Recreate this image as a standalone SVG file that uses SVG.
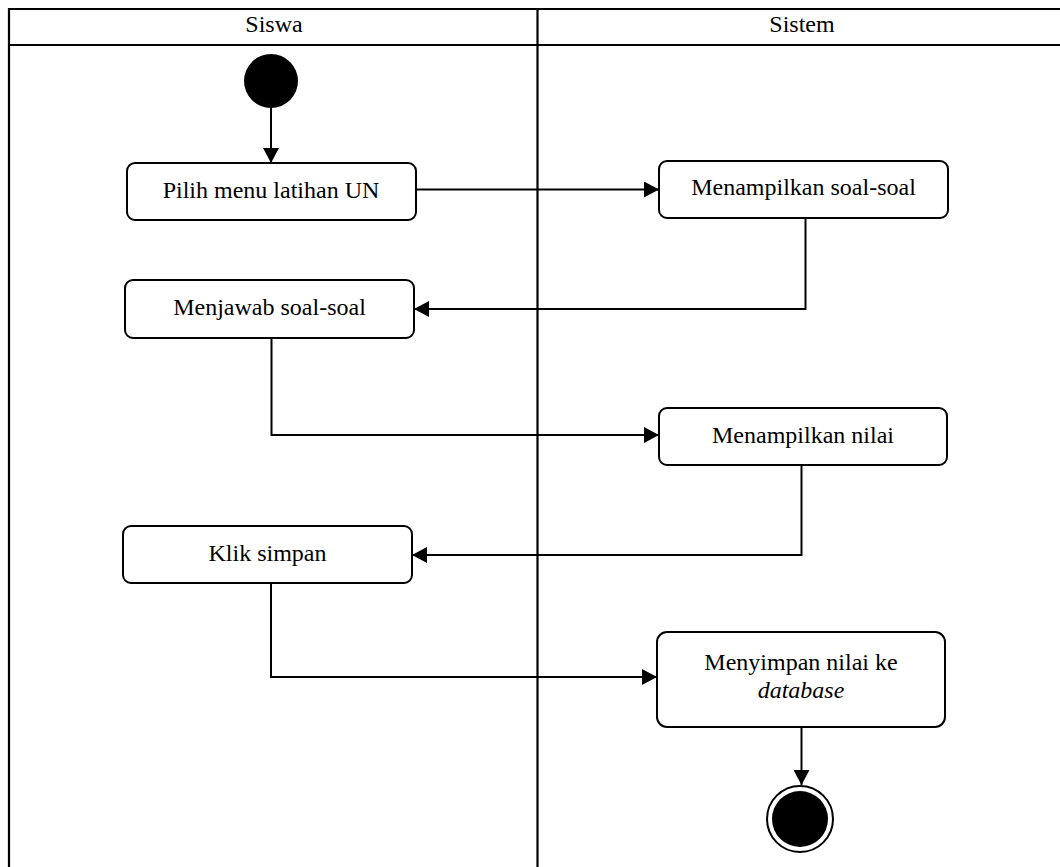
<svg xmlns="http://www.w3.org/2000/svg" width="1060" height="867" viewBox="0 0 1060 867">
  <style>
    .lane { fill: none; stroke: #000; stroke-width: 2.2; }
    .hdr { font-family: "Liberation Serif", "Times New Roman", serif; font-size: 24px; fill: #000; text-anchor: middle; }
    .act rect { fill: #fff; stroke: #000; stroke-width: 2; }
    .act text { font-family: "Liberation Serif", "Times New Roman", serif; font-size: 24px; fill: #000; text-anchor: middle; }
    .flow { fill: none; stroke: #000; stroke-width: 2; marker-end: url(#arrow); }
  </style>
  <defs>
    <marker id="arrow" markerWidth="15" markerHeight="16" refX="15" refY="8" orient="auto" markerUnits="userSpaceOnUse">
      <path d="M0,0 L15,8 L0,16 Z" fill="#000"/>
    </marker>
  </defs>

  <rect width="1060" height="867" fill="#fff"/>

  <!-- swimlane frame -->
  <g id="lanes">
    <path class="lane" d="M1070,9 H9 V880"/>
    <path class="lane" d="M9,45 H1070"/>
    <path class="lane" d="M537.5,9 V880"/>
    <text class="hdr" x="274" y="32">Siswa</text>
    <text class="hdr" x="802" y="32">Sistem</text>
  </g>

  <!-- connectors -->
  <g id="connectors">
    <path class="flow" d="M271,108 V163"/>
    <path class="flow" d="M416,189.5 H659"/>
    <path class="flow" d="M805.5,218 V309 H414"/>
    <path class="flow" d="M271.5,338 V435 H659"/>
    <path class="flow" d="M801.5,465 V555 H412"/>
    <path class="flow" d="M271,583 V677 H657"/>
    <path class="flow" d="M801.5,727 V785"/>
  </g>

  <g id="start">
    <circle cx="271" cy="81" r="27" fill="#000"/>
  </g>

  <g id="pilih-menu" class="act">
    <rect x="127" y="163" width="289" height="57" rx="8"/>
    <text x="271" y="198">Pilih menu latihan UN</text>
  </g>

  <g id="tampil-soal" class="act">
    <rect x="659" y="161" width="289" height="57" rx="8"/>
    <text x="803.5" y="195">Menampilkan soal-soal</text>
  </g>

  <g id="menjawab" class="act">
    <rect x="125" y="280" width="289" height="58" rx="8"/>
    <text x="269.5" y="315">Menjawab soal-soal</text>
  </g>

  <g id="tampil-nilai" class="act">
    <rect x="659" y="408" width="288" height="57" rx="8"/>
    <text x="803" y="443">Menampilkan nilai</text>
  </g>

  <g id="klik-simpan" class="act">
    <rect x="123" y="526" width="289" height="57" rx="8"/>
    <text x="267.5" y="561">Klik simpan</text>
  </g>

  <g id="simpan-db" class="act">
    <rect x="657" y="632" width="288" height="95" rx="10"/>
    <text x="801" y="670">Menyimpan nilai ke</text>
    <text x="801" y="698" font-style="italic">database</text>
  </g>

  <g id="end">
    <circle cx="800" cy="819" r="33" fill="#fff" stroke="#000" stroke-width="2"/>
    <circle cx="800" cy="819" r="28" fill="#000"/>
  </g>
</svg>
